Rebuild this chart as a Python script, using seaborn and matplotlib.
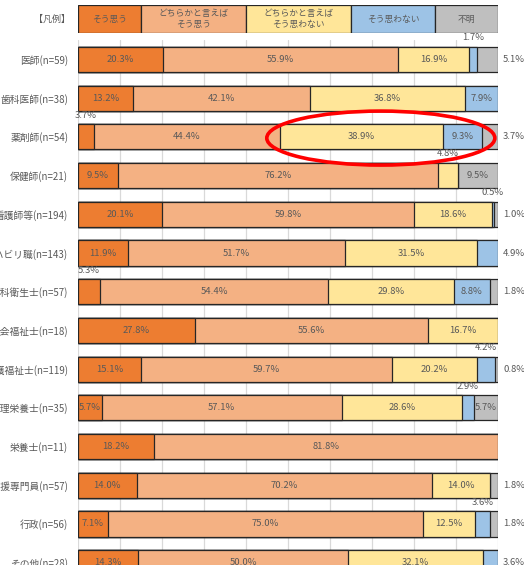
import numpy as np
import pandas as pd
import matplotlib
matplotlib.use("Agg")
import matplotlib.pyplot as plt
import seaborn as sns
from matplotlib.patches import Ellipse

categories = ["医師(n=59)", "歯科医師(n=38)", "薬剤師(n=54)", "保健師(n=21)",
              "看護師等(n=194)", "リハビリ職(n=143)", "歯科衛生士(n=57)",
              "社会福祉士(n=18)", "介護福祉士(n=119)", "管理栄養士(n=35)",
              "栄養士(n=11)", "介護支援専門員(n=57)", "行政(n=56)", "その他(n=28)"]
series = ["そう思う", "どちらかと言えばそう思う", "どちらかと言えばそう思わない",
          "そう思わない", "不明"]
legend_labels = ["そう思う", "どちらかと言えば\nそう思う", "どちらかと言えば\nそう思わない",
                 "そう思わない", "不明"]
agree           = [20.3, 13.2, 3.7, 9.5, 20.1, 11.9, 5.3, 27.8, 15.1, 5.7, 18.2, 14.0, 7.1, 14.3]
rather_agree    = [55.9, 42.1, 44.4, 76.2, 59.8, 51.7, 54.4, 55.6, 59.7, 57.1, 81.8, 70.2, 75.0, 50.0]
rather_disagree = [16.9, 36.8, 38.9, 4.8, 18.6, 31.5, 29.8, 16.7, 20.2, 28.6, 0.0, 14.0, 12.5, 32.1]
disagree        = [1.7, 7.9, 9.3, 0.0, 0.5, 4.9, 8.8, 0.0, 4.2, 2.9, 0.0, 0.0, 3.6, 3.6]
unknown         = [5.1, 0.0, 3.7, 9.5, 1.0, 0.0, 1.8, 0.0, 0.8, 5.7, 0.0, 1.8, 1.8, 0.0]
legend_widths   = [15, 25, 25, 20, 15]

colors = ["#ED7D31", "#F4B183", "#FFE699", "#9DC3E6", "#BFBFBF"]
edge = "#262626"
txt = "#595959"

sns.set_style("white")
plt.rcParams["font.family"] = ["Noto Sans CJK JP", "DejaVu Sans"]

df = pd.DataFrame({series[0]: agree, series[1]: rather_agree, series[2]: rather_disagree,
                   series[3]: disagree, series[4]: unknown}, index=categories)
norm = df.div(df.sum(axis=1), axis=0) * 100
cum = norm.cumsum(axis=1)

fig = plt.figure(figsize=(5.24, 5.65), dpi=100)
W, H = 524.0, 565.0
ax = fig.add_axes([78 / W, 0, 420 / W, 525 / H])

for i in reversed(range(5)):
    sns.barplot(x=cum[series[i]].values, y=categories, order=categories, orient="y",
                color=colors[i], saturation=1, edgecolor=edge, linewidth=0.9,
                width=0.65, errorbar=None, ax=ax)

ax.set_xlim(0, 100)
ax.set_ylim(13.06, -0.504)
ax.set_xticks(np.arange(0, 101, 10))
ax.set_xticklabels([])
ax.xaxis.grid(True, color="#D9D9D9", linewidth=0.9)
ax.yaxis.grid(False)
ax.set_axisbelow(True)
for s in ax.spines.values():
    s.set_visible(False)
ax.tick_params(axis="x", length=0)
ax.tick_params(axis="y", length=0, pad=7, labelsize=7, labelcolor=txt)
ax.set_xlabel("")
ax.set_ylabel("")

# value labels
for r, cat in enumerate(categories):
    vals = df.loc[cat].values
    nv = norm.loc[cat].values
    cs = cum.loc[cat].values
    nz = [k for k in range(5) if vals[k] > 0]
    last = nz[-1]
    for k in nz:
        center = cs[k] - nv[k] / 2
        label = f"{vals[k]:.1f}%"
        if vals[k] >= 5.5:
            ax.text(center, r, label, ha="center", va="center", fontsize=6.8, color=txt)
        elif k == last:
            ax.text(101.2, r, label, ha="left", va="center", fontsize=6.8, color=txt,
                    clip_on=False)
        else:
            ax.text(center, r - 0.56, label, ha="center", va="center", fontsize=6.8,
                    color=txt, clip_on=False)

ell = Ellipse((72.1, 2.03), 54.3, 1.395, fill=False, edgecolor="#FF0000",
              linewidth=2.6, zorder=10, clip_on=False)
ax.add_patch(ell)

# legend band
axl = fig.add_axes([78 / W, 1 - 33 / H, 420 / W, 28 / H])
left = 0
for k in range(5):
    axl.barh(0, legend_widths[k], left=left, height=1, color=colors[k], edgecolor=edge,
             linewidth=0.9)
    axl.text(left + legend_widths[k] / 2, 0, legend_labels[k], ha="center", va="center",
             fontsize=6.3, color=txt, linespacing=1.15)
    left += legend_widths[k]
axl.set_xlim(0, 100)
axl.set_ylim(-0.5, 0.5)
axl.axis("off")
axl.text(-1.9, 0, "【凡例】", ha="right", va="center", fontsize=6.5, color=txt)

fig.savefig("out.png", dpi=100)
